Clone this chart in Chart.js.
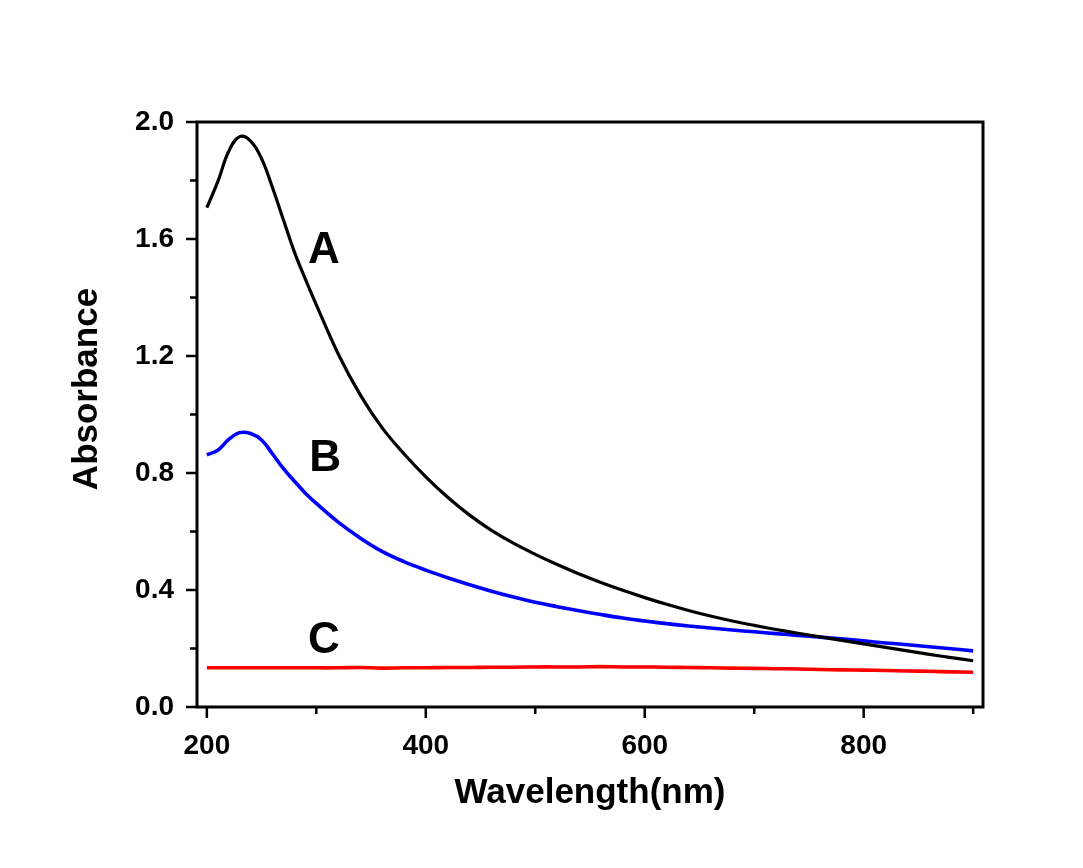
<!DOCTYPE html>
<html>
<head>
<meta charset="utf-8">
<script src="https://cdn.jsdelivr.net/npm/chart.js@4/dist/chart.umd.min.js"></script>
<style>
  html, body { margin: 0; padding: 0; background: #ffffff; }
  #wrap { width: 1083px; height: 868px; }
</style>
</head>
<body>
<div id="wrap"><canvas id="uvChart" width="1083" height="868"></canvas></div>
<script>
// ─── Data (10 nm near the peak, 20 nm after 300) ───────────────────────────
const wavelength = [200, 210, 220, 230, 240, 250, 260, 270, 280, 290, 300,
                    320, 340, 360, 380, 400, 420, 440, 460, 480, 500, 520, 540, 560, 580,
                    600, 620, 640, 660, 680, 700, 720, 740, 760, 780, 800, 820, 840, 860, 880, 900];
const absA = [1.707, 1.796, 1.90, 1.950, 1.935, 1.875, 1.775, 1.665, 1.555, 1.463, 1.375,
              1.207, 1.068, 0.955, 0.866, 0.787, 0.717, 0.656, 0.604, 0.560, 0.522, 0.487, 0.455, 0.426, 0.399,
              0.374, 0.351, 0.330, 0.311, 0.294, 0.279, 0.265, 0.252, 0.24, 0.228, 0.216, 0.204, 0.192, 0.18, 0.169, 0.158];
const absB = [0.862, 0.878, 0.915, 0.938, 0.935, 0.913, 0.865, 0.815, 0.772, 0.731, 0.696,
              0.632, 0.578, 0.532, 0.497, 0.468, 0.442, 0.418, 0.396, 0.376, 0.358, 0.343, 0.329, 0.316, 0.304,
              0.294, 0.285, 0.277, 0.27, 0.263, 0.257, 0.251, 0.245, 0.239, 0.233, 0.226, 0.219, 0.213, 0.206, 0.199, 0.192];
const absC = [0.134, 0.134, 0.134, 0.134, 0.134, 0.134, 0.134, 0.134, 0.134, 0.134, 0.134,
              0.134, 0.135, 0.133, 0.134, 0.134, 0.135, 0.135, 0.136, 0.136, 0.137, 0.137, 0.137, 0.138, 0.137,
              0.137, 0.136, 0.135, 0.134, 0.133, 0.132, 0.131, 0.13, 0.128, 0.127, 0.126, 0.125, 0.123, 0.122, 0.12, 0.119];

const xMajor = [200, 400, 600, 800];
const xMinor = [300, 500, 700, 900];
const yMajor = [0, 0.4, 0.8, 1.2, 1.6, 2.0];
const yMinor = [0.2, 0.6, 1.0, 1.4, 1.8];

const curveNames = ['A', 'B', 'C'];
const curveNameX = [307, 308, 307];
const curveNameY = [1.56, 0.85, 0.226];

const FONT = '"Liberation Sans", Arial, Helvetica, sans-serif';

function toPoints(ys) {
    return wavelength.map(function (x, i) { return { x: x, y: ys[i] }; });
}

// ─── Frame, outward ticks, curve names and y title ─────────────────────────
const framePlugin = {
    id: 'frame',
    afterDraw: function (chart) {
        const ctx = chart.ctx;
        const a = chart.chartArea;
        const xs = chart.scales.x;
        const ys = chart.scales.y;
        ctx.save();
        ctx.strokeStyle = '#000';
        ctx.lineWidth = 3;
        ctx.strokeRect(a.left, a.top, a.right - a.left, a.bottom - a.top);

        ctx.lineWidth = 2.5;
        ctx.beginPath();
        xMajor.concat(xMinor).forEach(function (v) {
            const px = xs.getPixelForValue(v);
            const len = xMajor.indexOf(v) >= 0 ? 11 : 7;
            ctx.moveTo(px, a.bottom);
            ctx.lineTo(px, a.bottom + len);
        });
        yMajor.concat(yMinor).forEach(function (v) {
            const py = ys.getPixelForValue(v);
            const len = yMajor.indexOf(v) >= 0 ? 11 : 7;
            ctx.moveTo(a.left, py);
            ctx.lineTo(a.left - len, py);
        });
        ctx.stroke();

        ctx.fillStyle = '#000';
        ctx.font = 'bold 44px ' + FONT;
        ctx.textAlign = 'center';
        ctx.textBaseline = 'middle';
        curveNames.forEach(function (name, i) {
            ctx.fillText(name, xs.getPixelForValue(curveNameX[i]), ys.getPixelForValue(curveNameY[i]));
        });

        ctx.font = 'bold 35px ' + FONT;
        ctx.translate(87, 389);
        ctx.rotate(-Math.PI / 2);
        ctx.fillText('Absorbance', 0, 0);
        ctx.restore();
    }
};

new Chart(document.getElementById('uvChart'), {
    type: 'line',
    data: {
        datasets: [
            { label: 'A', data: toPoints(absA), borderColor: '#000000', borderWidth: 3.2 },
            { label: 'B', data: toPoints(absB), borderColor: '#0000ff', borderWidth: 3.6 },
            { label: 'C', data: toPoints(absC), borderColor: '#ff0000', borderWidth: 3.6 }
        ]
    },
    options: {
        responsive: false,
        animation: false,
        layout: { padding: { left: 0, top: 122, right: 100, bottom: 0 } },
        elements: {
            point: { radius: 0 },
            line: { tension: 0.4, fill: false }
        },
        plugins: { legend: { display: false }, tooltip: { enabled: false } },
        scales: {
            x: {
                type: 'linear',
                min: 191,
                max: 909,
                grid: { display: false },
                border: { display: false },
                afterFit: function (scale) { scale.height = 161; },
                afterBuildTicks: function (scale) {
                    scale.ticks = xMajor.map(function (v) { return { value: v }; });
                },
                ticks: {
                    color: '#000',
                    padding: 17,
                    maxRotation: 0,
                    autoSkip: false,
                    font: { family: FONT, size: 28, weight: 'bold', lineHeight: 1 }
                },
                title: {
                    display: true,
                    text: 'Wavelength(nm)',
                    color: '#000',
                    padding: { top: 0, bottom: 54 },
                    font: { family: FONT, size: 35, weight: 'bold', lineHeight: 1.2 }
                }
            },
            y: {
                min: 0,
                max: 2.0,
                grid: { display: false },
                border: { display: false },
                afterFit: function (scale) { scale.width = 197; },
                afterBuildTicks: function (scale) {
                    scale.ticks = yMajor.map(function (v) { return { value: v }; });
                },
                ticks: {
                    color: '#000',
                    padding: 15,
                    autoSkip: false,
                    font: { family: FONT, size: 28, weight: 'bold' },
                    callback: function (v) { return Number(v).toFixed(1); }
                }
            }
        }
    },
    plugins: [framePlugin]
});
</script>
</body>
</html>
